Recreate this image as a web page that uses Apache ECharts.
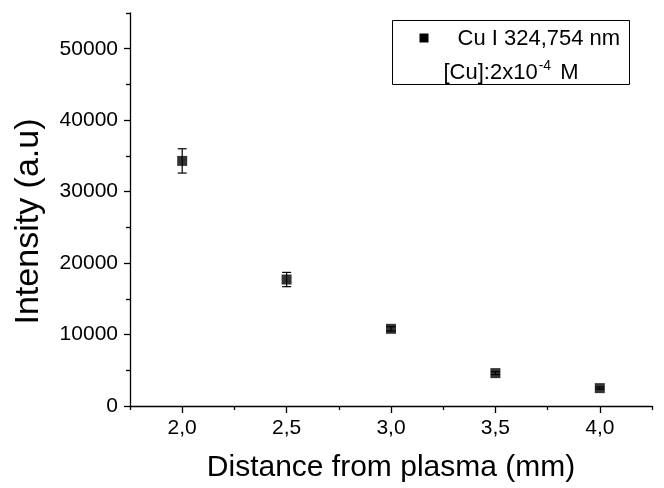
<!DOCTYPE html>
<html>
<head>
<meta charset="utf-8">
<script src="https://cdn.jsdelivr.net/npm/echarts@6/dist/echarts.min.js"></script>
<style>
  html, body { margin: 0; padding: 0; background: #fff; }
  #chart { width: 664px; height: 488px; }
</style>
</head>
<body>
<div id="chart"></div>
<script>
// Emission intensity of Cu I 324.754 nm vs. distance from plasma
const distances = [2.0, 2.5, 3.0, 3.5, 4.0];
const intensities = [34300, 17700, 10800, 4600, 2500];
const errors = [1700, 1000, 300, 200, 150];
const xTicks = [2.0, 2.5, 3.0, 3.5, 4.0];
const xMinorTicks = [1.75, 2.25, 2.75, 3.25, 3.75, 4.25];
const yTicks = [0, 10000, 20000, 30000, 40000, 50000];
const yMinorTicks = [5000, 15000, 25000, 35000, 45000, 55000];

const FONT = '"Liberation Sans", Arial, sans-serif';
const chart = echarts.init(document.getElementById('chart'), null, { renderer: 'canvas' });

const points = distances.map((d, i) => [d, intensities[i]]);
const bars = distances.map((d, i) => [d, intensities[i] - errors[i], intensities[i] + errors[i]]);

const axisLineStyle = { color: '#000', width: 1.3 };

chart.setOption({
  backgroundColor: '#fff',
  animation: false,
  grid: { left: 130, right: 12, top: 13, bottom: 80 },
  xAxis: [
    {
      type: 'value',
      min: 1.75,
      max: 4.25,
      interval: 0.25,
      name: 'Distance from plasma (mm)',
      nameLocation: 'middle',
      nameGap: 47,
      nameTextStyle: { fontFamily: FONT, fontSize: 30, color: '#000' },
      axisLine: { show: true, lineStyle: axisLineStyle },
      axisTick: { show: true, inside: false, length: 7, lineStyle: axisLineStyle, customValues: xTicks },
      axisLabel: {
        fontFamily: FONT, fontSize: 21, color: '#000', margin: 12,
        customValues: xTicks,
        formatter: v => v.toFixed(1).replace('.', ',')
      },
      splitLine: { show: false }
    },
    {
      // minor ticks halfway between labelled values
      type: 'value',
      position: 'bottom',
      min: 1.75,
      max: 4.25,
      interval: 0.25,
      axisLine: { show: false },
      axisTick: { show: true, inside: false, length: 4, lineStyle: axisLineStyle, customValues: xMinorTicks },
      axisLabel: { show: false },
      splitLine: { show: false }
    }
  ],
  yAxis: [
    {
      type: 'value',
      min: 0,
      max: 55000,
      interval: 5000,
      name: 'Intensity (a.u)',
      nameLocation: 'middle',
      nameGap: 84,
      nameTextStyle: { fontFamily: FONT, fontSize: 34, color: '#000', padding: [0, 0, 0, -24] },
      axisLine: { show: true, lineStyle: axisLineStyle },
      axisTick: { show: true, inside: false, length: 6, lineStyle: axisLineStyle, customValues: yTicks },
      axisLabel: {
        fontFamily: FONT, fontSize: 21, color: '#000', margin: 12,
        customValues: yTicks,
        formatter: v => String(v)
      },
      splitLine: { show: false }
    },
    {
      type: 'value',
      position: 'left',
      min: 0,
      max: 55000,
      interval: 5000,
      axisLine: { show: false },
      axisTick: { show: true, inside: false, length: 4, lineStyle: axisLineStyle, customValues: yMinorTicks },
      axisLabel: { show: false },
      splitLine: { show: false }
    }
  ],
  series: [
    {
      type: 'custom',
      name: 'err',
      data: bars,
      z: 2,
      renderItem: function (params, api) {
        const x = api.value(0);
        const lo = api.coord([x, api.value(1)]);
        const hi = api.coord([x, api.value(2)]);
        const w = 4.5;
        const style = { stroke: '#000', lineWidth: 1.2 };
        return {
          type: 'group',
          children: [
            { type: 'line', shape: { x1: lo[0], y1: lo[1], x2: hi[0], y2: hi[1] }, style },
            { type: 'line', shape: { x1: lo[0] - w, y1: lo[1], x2: lo[0] + w, y2: lo[1] }, style },
            { type: 'line', shape: { x1: hi[0] - w, y1: hi[1], x2: hi[0] + w, y2: hi[1] }, style }
          ]
        };
      }
    },
    {
      type: 'scatter',
      name: 'Cu I 324,754 nm',
      data: points,
      symbol: 'rect',
      symbolSize: 10,
      z: 3,
      itemStyle: { color: '#000' }
    }
  ],
  graphic: [
    {
      type: 'group',
      left: 392,
      top: 20,
      children: [
        { type: 'rect', shape: { x: 0, y: 0, width: 237, height: 64 },
          style: { fill: '#fff', stroke: '#000', lineWidth: 1 } },
        { type: 'rect', shape: { x: 27, y: 13, width: 9, height: 9 }, style: { fill: '#000' } },
        { type: 'text', x: 65, y: 18,
          style: { text: 'Cu I 324,754 nm', font: '22px ' + FONT, fill: '#000', verticalAlign: 'middle' } },
        { type: 'text', x: 51, y: 52,
          style: {
            text: '[Cu]:2x10{sup|-4} M',
            font: '22px ' + FONT, fill: '#000', verticalAlign: 'middle',
            rich: {
              sup: { fontSize: 14, fontFamily: FONT, verticalAlign: 'top', padding: [0, 3, 12, 1], fill: '#000' }
            }
          } }
      ]
    }
  ]
});
</script>
</body>
</html>
